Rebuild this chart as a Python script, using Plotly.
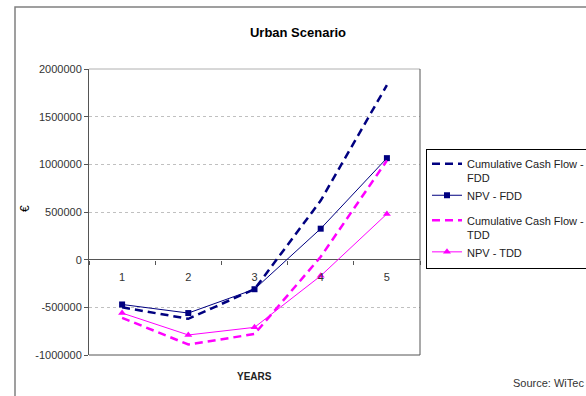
import plotly.graph_objects as go

years = ["1", "2", "3", "4", "5"]
ccf_fdd = [-500000, -620000, -310000, 620000, 1830000]
npv_fdd = [-470000, -560000, -310000, 325000, 1065000]
ccf_tdd = [-610000, -890000, -780000, 30000, 1040000]
npv_tdd = [-560000, -790000, -710000, -170000, 480000]

y_ticks = [-1000000, -500000, 0, 500000, 1000000, 1500000, 2000000]
y_tick_labels = ["-1000000", "-500000", "0", "500000", "1000000", "1500000", "2000000"]

NAVY = "#000080"
MAG = "#FF00FF"
FONT = "Liberation Sans, Arial, sans-serif"

fig = go.Figure()
fig.add_trace(go.Scatter(x=years, y=ccf_fdd, mode="lines", name="Cumulative Cash Flow -<br>FDD",
                         line=dict(color=NAVY, width=2.5, dash="8px,5px"), legendgroup="g1"))
fig.add_trace(go.Scatter(x=years, y=npv_fdd, mode="lines+markers", name="NPV - FDD",
                         line=dict(color=NAVY, width=1),
                         marker=dict(symbol="square", size=6, color=NAVY), legendgroup="g1"))
fig.add_trace(go.Scatter(x=years, y=ccf_tdd, mode="lines", name="Cumulative Cash Flow -<br>TDD",
                         line=dict(color=MAG, width=2.5, dash="8px,5px"), legendgroup="g2"))
fig.add_trace(go.Scatter(x=years, y=npv_tdd, mode="lines+markers", name="NPV - TDD",
                         line=dict(color=MAG, width=1),
                         marker=dict(symbol="triangle-up", size=7, color=MAG), legendgroup="g2"))

W, H = 586, 396
L, R, T, B = 89, 420, 69, 355
pw, ph = R - L, B - T

def px_x(p):
    return (p - L) / pw

def px_y(p):
    return (B - p) / ph

fig.update_layout(
    width=W, height=H,
    margin=dict(l=L, r=W - R, t=T, b=H - B, autoexpand=False),
    paper_bgcolor="white", plot_bgcolor="white",
    font=dict(family=FONT, size=11, color="#333333"),
    title=dict(text="<b>Urban Scenario</b>", x=298 / W, xanchor="center",
               y=1 - 32 / H, yanchor="middle", yref="container",
               font=dict(size=13, color="#000000", family=FONT)),
    showlegend=True,
    legend=dict(x=px_x(426), y=px_y(149), xanchor="left", yanchor="top",
                bgcolor="white", bordercolor="#000000", borderwidth=1,
                font=dict(size=11, color="#222222", family=FONT),
                traceorder="grouped", tracegroupgap=6, valign="top"),
    xaxis=dict(type="category", anchor="free", position=(0 - (-1000000)) / 3000000,
               showline=False, showgrid=False, ticks="outside", tickson="boundaries",
               ticklen=4, tickcolor="#555555", ticklabelstandoff=9,
               tickfont=dict(size=11, color="#333333"), range=[-0.5, 4.5]),
    yaxis=dict(range=[-1000000, 2000000], tickvals=y_ticks, ticktext=y_tick_labels,
               showline=True, linecolor="#555555", linewidth=1,
               ticks="outside", ticklen=4, tickcolor="#555555",
               showgrid=True, gridcolor="#c0c0c0", griddash="dot", gridwidth=1,
               zeroline=True, zerolinecolor="#555555", zerolinewidth=1,
               tickfont=dict(size=11, color="#333333")),
    shapes=[
        dict(type="line", xref="paper", yref="paper", x0=0, x1=1, y0=1, y1=1,
             line=dict(color="#b0b0b0", width=1), layer="above"),
        dict(type="line", xref="paper", yref="paper", x0=0, x1=1, y0=0, y1=0,
             line=dict(color="#555555", width=1), layer="above"),
        dict(type="line", xref="paper", yref="paper", x0=1, x1=1, y0=0, y1=1,
             line=dict(color="#555555", width=1), layer="above"),
        dict(type="rect", xref="paper", yref="paper", x0=px_x(15), x1=px_x(620),
             y0=px_y(420), y1=px_y(7), line=dict(color="#808080", width=1.5),
             fillcolor="rgba(0,0,0,0)", layer="below"),
    ],
    annotations=[
        dict(text="€", x=px_x(25), y=px_y(209), xref="paper", yref="paper",
             showarrow=False, textangle=-90, font=dict(size=12, color="#000000", family=FONT),
             xanchor="center", yanchor="middle"),
        dict(text="<b>YEARS</b>", x=px_x(254), y=px_y(376), xref="paper", yref="paper",
             showarrow=False, font=dict(size=10, color="#222222", family=FONT),
             xanchor="center", yanchor="middle"),
        dict(text="Source: WiTec", x=px_x(511), y=px_y(383), xref="paper", yref="paper",
             showarrow=False, font=dict(size=11, color="#333333", family=FONT),
             xanchor="left", yanchor="middle"),
    ],
)

fig.write_html("out.html")
